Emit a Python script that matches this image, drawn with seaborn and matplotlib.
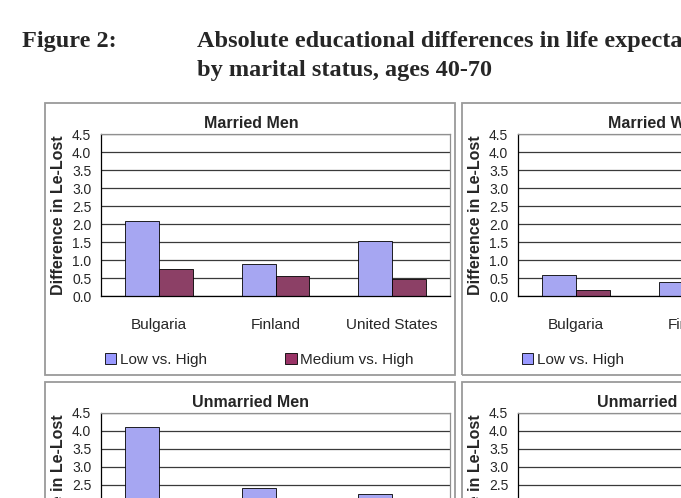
import numpy as np
import pandas as pd
import matplotlib
matplotlib.use("Agg")
import matplotlib.pyplot as plt
from matplotlib.patches import Patch, Rectangle
import seaborn as sns

# --- Data (NaN = not visible in the crop) ---
countries = ["Bulgaria", "Finland", "United States"]
comparisons = ["Low vs. High", "Medium vs. High"]

married_men_low = [2.07, 0.89, 1.53]
married_men_med = [0.74, 0.55, 0.48]
married_women_low = [0.59, 0.40, np.nan]
married_women_med = [0.17, np.nan, np.nan]
unmarried_men_low = [4.10, 2.42, 2.25]
unmarried_men_med = [np.nan, np.nan, np.nan]
unmarried_women_low = [np.nan, np.nan, np.nan]
unmarried_women_med = [np.nan, np.nan, np.nan]

panel_titles = ["Married Men", "Married Women", "Unmarried Men", "Unmarried Women"]
y_ticks = [0.0, 0.5, 1.0, 1.5, 2.0, 2.5, 3.0, 3.5, 4.0, 4.5]

colors = {"Low vs. High": "#9999FF", "Medium vs. High": "#993366"}

sns.set_style("white")
plt.rcParams["font.family"] = ["Liberation Sans", "DejaVu Sans"]

W, H = 681, 498
fig = plt.figure(figsize=(W / 100, H / 100), dpi=100)
fig.patch.set_facecolor("white")


def fx(px):
    return px / W


def fy(py):
    return 1 - py / H


def make_df(low, med):
    rows = []
    for c, lo, me in zip(countries, low, med):
        rows.append({"Country": c, "Comparison": comparisons[0], "Value": lo})
        rows.append({"Country": c, "Comparison": comparisons[1], "Value": me})
    return pd.DataFrame(rows)


panels = [
    (married_men_low, married_men_med, 0, 0),
    (married_women_low, married_women_med, 417, 0),
    (unmarried_men_low, unmarried_men_med, 0, 279),
    (unmarried_women_low, unmarried_women_med, 417, 279),
]

for i, (low, med, dx, dy) in enumerate(panels):
    # chart area border
    fig.patches.append(Rectangle((fx(45 + dx), fy(375 + dy)), 410 / W, 272 / H,
                                 transform=fig.transFigure, fill=False,
                                 edgecolor="#9a9a9a", linewidth=1.3))
    # plot area
    x0, x1, y0, y1 = 101 + dx, 450 + dx, 134 + dy, 296 + dy
    ax = fig.add_axes([fx(x0), fy(y1), (x1 - x0) / W, (y1 - y0) / H])
    df = make_df(low, med)
    if df["Value"].notna().any():
        sns.barplot(data=df, x="Country", y="Value", hue="Comparison",
                    order=countries, hue_order=comparisons, palette=colors,
                    width=0.58, gap=0, errorbar=None, edgecolor="black",
                    linewidth=0.6, legend=False, ax=ax)
    ax.set_xlim(-0.5, 2.5)
    ax.set_ylim(0, 4.5)
    ax.set_yticks(y_ticks)
    ax.set_yticklabels([f"{t:.1f}" for t in y_ticks], fontsize=10)
    ax.yaxis.grid(True, color="#3a3a3a", linewidth=0.9)
    ax.set_axisbelow(True)
    ax.set_xticks([-0.5, 0.5, 1.5, 2.5])
    ax.set_xticklabels([])
    ax.set_xticks([0, 1, 2], minor=True)
    ax.set_xticklabels(countries, minor=True, fontsize=11)
    ax.tick_params(axis="x", which="major", direction="out", length=5, width=0.8, color="#555555")
    ax.tick_params(axis="x", which="minor", length=0, pad=16)
    ax.tick_params(axis="y", direction="out", length=4, width=0.8, color="black", pad=3)
    ax.set_xlabel("")
    ax.set_ylabel("")
    for side in ["top", "right"]:
        ax.spines[side].set_color("#909090")
        ax.spines[side].set_linewidth(0.9)
    for side in ["left", "bottom"]:
        ax.spines[side].set_color("black")
        ax.spines[side].set_linewidth(0.9)
    ax.set_facecolor("white")

    fig.text(fx(251 + dx), fy(123 + dy), panel_titles[i], ha="center", va="center",
             fontsize=11.5, fontweight="bold")
    fig.text(fx(59 + dx), fy(215 + dy), "Difference in Le-Lost", ha="center", va="center",
             rotation=90, fontsize=11.5, fontweight="bold")

    # legend, Excel style: two entries spread across the bottom
    handles = [Patch(facecolor=colors[c], edgecolor="black", linewidth=0.6) for c in comparisons]
    leg = ax.legend(handles, comparisons, loc="center left",
                    bbox_to_anchor=((105 + dx - x0) / (x1 - x0), (y1 - (360 + dy)) / (y1 - y0)),
                    ncol=2, frameon=False, fontsize=11, handlelength=0.75, handleheight=0.75,
                    handletextpad=0.25, columnspacing=5.1, borderpad=0, borderaxespad=0)

# document header
serif = ["Liberation Serif", "DejaVu Serif"]
fig.text(fx(22), fy(47), "Figure 2:", fontsize=17.5, fontweight="bold", family=serif, va="baseline")
fig.text(fx(197), fy(47), "Absolute educational differences in life expectancy",
         fontsize=17.5, fontweight="bold", family=serif, va="baseline")
fig.text(fx(197), fy(76), "by marital status, ages 40-70",
         fontsize=17.5, fontweight="bold", family=serif, va="baseline")

fig.savefig("out.png", dpi=100)
